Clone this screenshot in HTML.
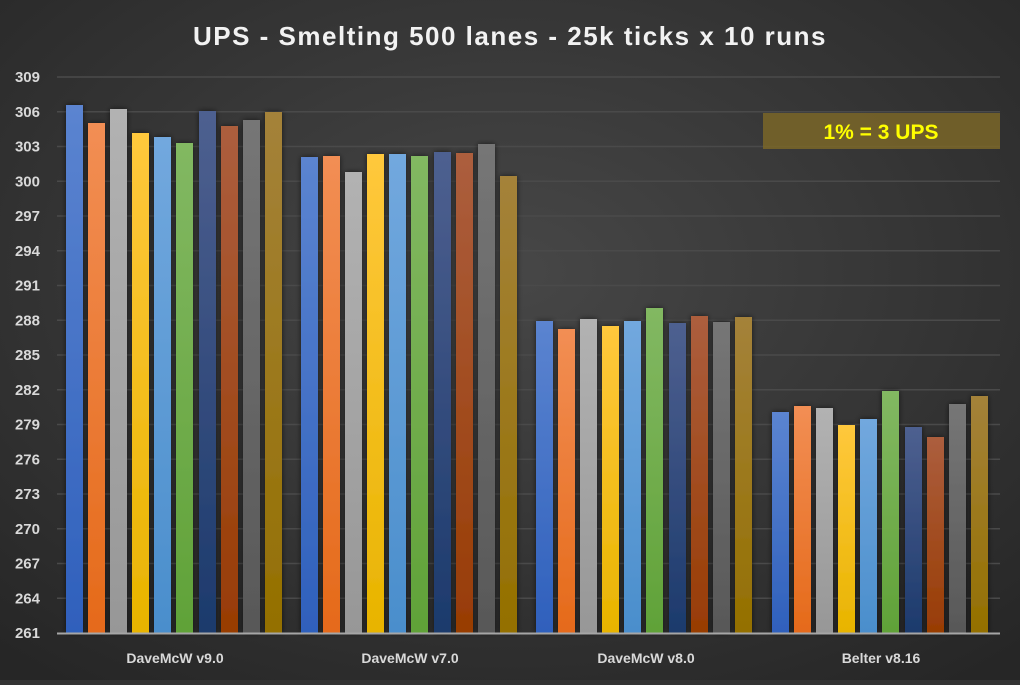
<!DOCTYPE html>
<html><head><meta charset="utf-8"><style>
html,body{margin:0;padding:0;}
body{width:1020px;height:680px;overflow:hidden;background:#333;}
</style></head><body>
<svg id="s" width="1020" height="680" xmlns="http://www.w3.org/2000/svg" font-family="Liberation Sans, sans-serif">
<defs>
<radialGradient id="bg" cx="50%" cy="40%" r="75%">
<stop offset="0" stop-color="#474747"/><stop offset="1" stop-color="#262626"/>
</radialGradient>
<filter id="sh" x="-30%" y="-10%" width="160%" height="120%"><feGaussianBlur in="SourceAlpha" stdDeviation="3"/><feOffset dx="0" dy="0"/><feComponentTransfer><feFuncA type="linear" slope="0.6"/></feComponentTransfer><feMerge><feMergeNode/><feMergeNode in="SourceGraphic"/></feMerge></filter>
</defs>
<rect width="1020" height="680" fill="url(#bg)"/>
<text x="510" y="45" text-anchor="middle" fill="#f2f2f2" font-size="26" font-weight="bold" letter-spacing="1.5">UPS - Smelting 500 lanes - 25k ticks x 10 runs</text>
<g id="grid"></g>
<g id="bars" filter="url(#sh)"></g>
<line x1="57" y1="633.5" x2="1000" y2="633.5" stroke="#a6a6a6" stroke-width="2"/>
<rect x="763" y="113" width="237" height="36" fill="#7a6628" opacity="0.85"/>
<text x="881" y="139" text-anchor="middle" fill="#ffff00" font-size="21" font-weight="bold">1% = 3 UPS</text>
<g font-size="14" font-weight="bold" fill="#d9d9d9" text-anchor="middle">
<text x="175" y="663">DaveMcW v9.0</text>
<text x="410" y="663">DaveMcW v7.0</text>
<text x="646" y="663">DaveMcW v8.0</text>
<text x="881" y="663">Belter v8.16</text>
</g>
</svg>
<script>
var ns="http://www.w3.org/2000/svg",s=document.getElementById('s');
var grid=document.getElementById('grid'),bars=document.getElementById('bars');
function el(t,a,p){var e=document.createElementNS(ns,t);for(var k in a)e.setAttribute(k,a[k]);p.appendChild(e);return e;}
for(var i=0;i<=16;i++){var y=633-i*34.75;var v=261+i*3;
 if(i>0)el('line',{x1:57,x2:1000,y1:y,y2:y,stroke:'#4a4a4a','stroke-width':1.5},grid);
 var t=el('text',{x:40,y:y+5,'text-anchor':'end',fill:'#d9d9d9','font-size':15,'font-weight':'bold'},grid);t.textContent=v;}
var cols=[['#5b84d0','#2f60bc'],['#f28e54','#e56a1a'],['#b2b2b2','#979797'],['#ffc83c','#e8b400'],['#72a8de','#4a8ecc'],['#82b862','#60a238'],['#4e6090','#1c3a6c'],['#ac5e3e','#983c04'],['#767676','#585858'],['#a4823a','#947000']];
var defs=s.querySelector('defs');
cols.forEach(function(c,i){var g=el('linearGradient',{id:'g'+i,x1:0,y1:0,x2:0,y2:1},defs);el('stop',{offset:0,'stop-color':c[0]},g);el('stop',{offset:1,'stop-color':c[1]},g);});
var tops=[[105,123,109,133,137,143,111,126,120,112],[157,156,172,154,154,156,152,153,144,176],[321,329,319,326,321,308,323,316,322,317],[412,406,408,425,419,391,427,437,404,396]];
var off=[0,22,44,66,88,110,133,155,177,199];
var gs=[66,301,536,772];
for(var g=0;g<4;g++)for(var b=0;b<10;b++){var y=tops[g][b];
 el('rect',{x:gs[g]+off[b],y:y,width:17,height:633-y,fill:'url(#g'+b+')'},bars);}
</script>
</body></html>
